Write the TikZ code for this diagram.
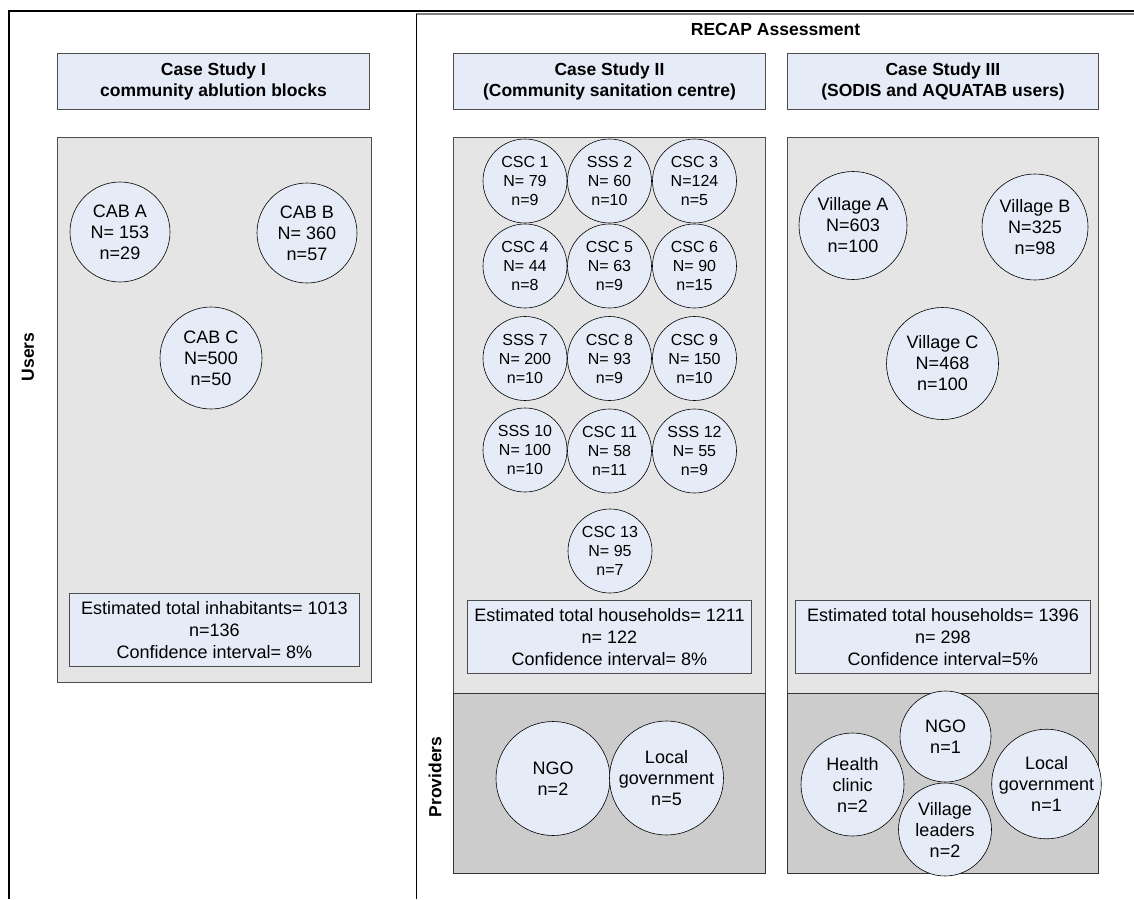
\documentclass[tikz,border=0pt]{standalone}
\usepackage{fontspec}
\setmainfont{Liberation Sans}
\definecolor{paleblue}{HTML}{E6ECF7}
\definecolor{usergray}{HTML}{E5E5E5}
\definecolor{provgray}{HTML}{CCCCCC}
\definecolor{edgegray}{HTML}{4D4D4D}
\tikzset{
  hdr/.style={draw=edgegray, line width=0.9pt, fill=paleblue, anchor=north west, align=center,
    inner sep=0pt, font=\fontsize{17.5}{20.7}\selectfont\bfseries},
  usersbox/.style={draw=edgegray, line width=1pt, fill=usergray, anchor=north west, inner sep=0pt},
  provbox/.style={draw=black!80, line width=1pt, fill=provgray, anchor=north west, inner sep=0pt},
  estbox/.style={draw=edgegray, line width=0.9pt, fill=paleblue, anchor=north west, align=center,
    inner sep=0pt, font=\fontsize{18}{22}\selectfont},
  site/.style={circle, draw=black, line width=0.6pt, fill=paleblue, inner sep=0pt, align=center,
    font=\fontsize{18}{21}\selectfont},
  smallsite/.style={site, minimum size=84pt, font=\fontsize{16}{19}\selectfont},
  sidelabel/.style={rotate=90, font=\fontsize{17.5}{20}\selectfont\bfseries}
}
\begin{document}
\begin{tikzpicture}[x=1pt, y=-1pt]
\useasboundingbox (0,0) rectangle (1134,899);

% outer frames
\draw[line width=2pt] (9,899) -- (9,11) -- (1136,11);
\draw[gray, line width=1.6pt] (416,14) -- (1136,14);
\draw[line width=1pt] (416,14) -- (416,899);

\node[font=\fontsize{17.5}{20}\selectfont\bfseries] (recap) at (775.5,29) {RECAP Assessment};
\node[sidelabel] (users) at (28,357) {Users};
\node[sidelabel] (providers) at (435,777) {Providers};

% headers
\node[hdr, minimum width=312pt, minimum height=56pt] (h1) at (57,53) {Case Study I\\community ablution blocks};
\node[hdr, minimum width=312pt, minimum height=56pt] (h2) at (453,53) {Case Study II\\(Community sanitation centre)};
\node[hdr, minimum width=311pt, minimum height=56pt] (h3) at (787,53) {Case Study III\\(SODIS and AQUATAB users)};

% panels
\node[usersbox, minimum width=314pt, minimum height=545pt] (p1) at (57,137) {};
\node[usersbox, minimum width=312pt, minimum height=556pt] (p2) at (453,137) {};
\node[usersbox, minimum width=311pt, minimum height=556pt] (p3) at (787,137) {};
\node[provbox, minimum width=312pt, minimum height=180pt] (q2) at (453,693) {};
\node[provbox, minimum width=311pt, minimum height=180pt] (q3) at (787,693) {};

% case study I
\node[site, minimum size=100pt] (cabA) at (120,232) {CAB A\\N= 153\\n=29};
\node[site, minimum size=100pt] (cabB) at (307,233) {CAB B\\N= 360\\n=57};
\node[site, minimum size=102pt] (cabC) at (211,358) {CAB C\\N=500\\n=50};
\node[estbox, minimum width=290pt, minimum height=73pt] (e1) at (69,593) {Estimated total inhabitants= 1013\\n=136\\Confidence interval= 8\%};

% case study II
\node[smallsite] (c1) at (525,181) {CSC 1\\N= 79\\n=9};
\node[smallsite] (c2) at (609.5,181) {SSS 2\\N= 60\\n=10};
\node[smallsite] (c3) at (694.5,181) {CSC 3\\N=124\\n=5};
\node[smallsite] (c4) at (525,266) {CSC 4\\N= 44\\n=8};
\node[smallsite] (c5) at (609.5,266) {CSC 5\\N= 63\\n=9};
\node[smallsite] (c6) at (694.5,266) {CSC 6\\N= 90\\n=15};
\node[smallsite] (c7) at (525,358.5) {SSS 7\\N= 200\\n=10};
\node[smallsite] (c8) at (609.5,358.5) {CSC 8\\N= 93\\n=9};
\node[smallsite] (c9) at (694.5,358.5) {CSC 9\\N= 150\\n=10};
\node[smallsite] (c10) at (525,450) {SSS 10\\N= 100\\n=10};
\node[smallsite] (c11) at (609.5,451) {CSC 11\\N= 58\\n=11};
\node[smallsite] (c12) at (694.5,451) {SSS 12\\N= 55\\n=9};
\node[smallsite] (c13) at (610,551) {CSC 13\\N= 95\\n=7};
\node[estbox, minimum width=284pt, minimum height=73pt] (e2) at (467,600) {Estimated total households= 1211\\n= 122\\Confidence interval= 8\%};
\node[site, minimum size=114pt] (ngo2) at (553,778.5) {NGO\\n=2};
\node[site, minimum size=114pt] (gov2) at (666.5,778) {Local\\government\\n=5};

% case study III
\node[site, minimum size=108pt] (vA) at (853,225.5) {Village A\\N=603\\n=100};
\node[site, minimum size=106pt] (vB) at (1035,227) {Village B\\N=325\\n=98};
\node[site, minimum size=112pt] (vC) at (942.5,363.5) {Village C\\N=468\\n=100};
\node[estbox, minimum width=295pt, minimum height=73pt] (e3) at (795,600) {Estimated total households= 1396\\n= 298\\Confidence interval=5\%};
\node[site, minimum size=103pt] (hc3) at (852.5,784.5) {Health\\clinic\\n=2};
\node[site, minimum size=91pt] (ngo3) at (945.5,736.5) {NGO\\n=1};
\node[site, minimum size=93pt] (vl3) at (945,829.5) {Village\\leaders\\n=2};
\node[site, minimum size=108pt] (gov3) at (1046.5,784) {Local\\government\\n=1};
\end{tikzpicture}
\end{document}
